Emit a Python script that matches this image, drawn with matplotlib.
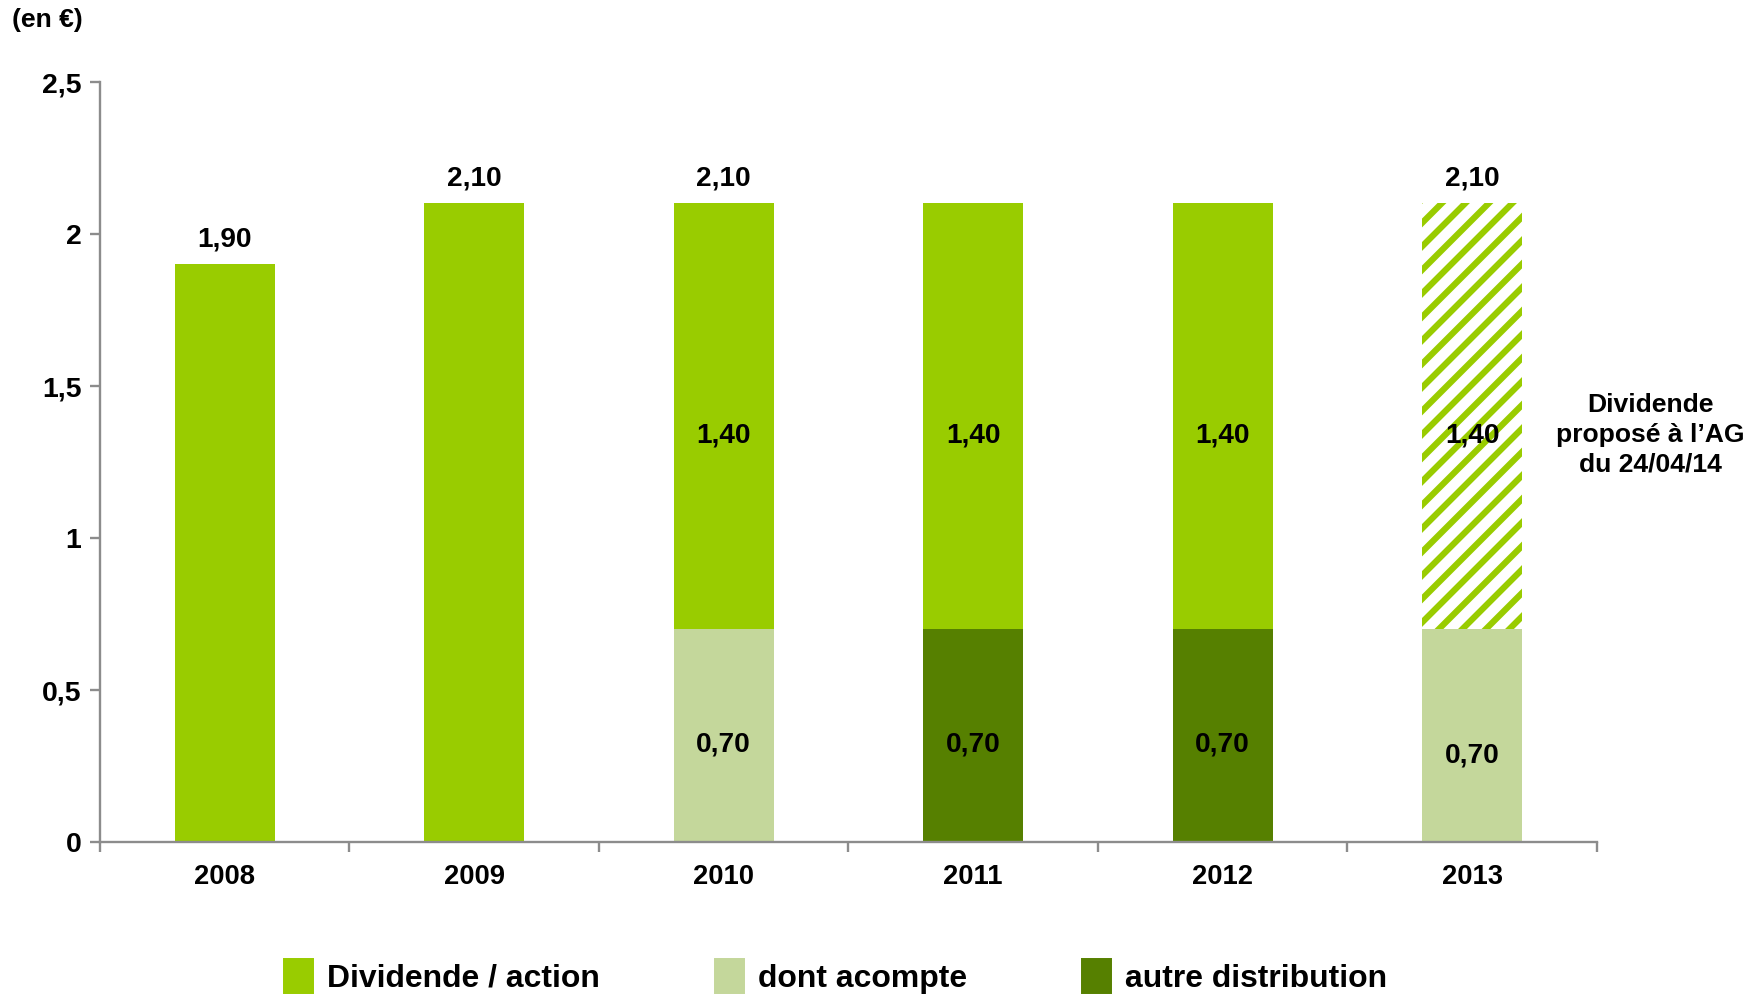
import matplotlib.pyplot as plt
import matplotlib.patches as mpatches
import numpy as np

plt.rcParams['font.family'] = ['Liberation Sans', 'DejaVu Sans']
plt.rcParams['font.weight'] = 'bold'
plt.rcParams['hatch.linewidth'] = 3.2

years = ['2008', '2009', '2010', '2011', '2012', '2013']
acompte = [0, 0, 0.70, 0, 0, 0.70]          # dont acompte
autre = [0, 0, 0, 0.70, 0.70, 0]            # autre distribution
solde = [1.90, 2.10, 1.40, 1.40, 1.40, 1.40]  # partie haute (dividende / action)
total_shown = [True, True, True, False, False, True]
proposed = [False, False, False, False, False, True]  # dividende proposé (hachuré)

VERT = '#99CC00'
CLAIR = '#C4D79B'
FONCE = '#568000'
AXE = '#8C8C8C'

fig = plt.figure(figsize=(12.5, 7.05), dpi=141.04)
ax = fig.add_axes([0.0567, 0.1529, 0.8491, 0.7646])

x = np.arange(len(years))
w = 0.4
bas = np.array(acompte) + np.array(autre)

ax.bar(x, acompte, w, color=CLAIR, linewidth=0)
ax.bar(x, autre, w, color=FONCE, linewidth=0)
for i in range(len(years)):
    if proposed[i]:
        ax.bar(x[i], solde[i], w, bottom=bas[i], facecolor='white',
               edgecolor=VERT, hatch='//', linewidth=0)
    else:
        ax.bar(x[i], solde[i], w, bottom=bas[i], color=VERT, linewidth=0)

# étiquettes de valeurs
fs = 14.3
for i in range(len(years)):
    tot = bas[i] + solde[i]
    if total_shown[i]:
        ax.annotate(f'{tot:.2f}'.replace('.', ','), (x[i], tot),
                    xytext=(0, 13), textcoords='offset points',
                    ha='center', va='center', fontsize=fs)
    if bas[i] > 0:
        ax.text(x[i], bas[i] + solde[i] * 0.455, f'{solde[i]:.2f}'.replace('.', ','),
                ha='center', va='center', fontsize=fs)
        yb = bas[i] * (0.41 if proposed[i] else 0.46)
        ax.text(x[i], yb, f'{bas[i]:.2f}'.replace('.', ','),
                ha='center', va='center', fontsize=fs)

ax.set_xlim(-0.5, len(years) - 0.5)
ax.set_ylim(0, 2.5)
ax.set_yticks([0, 0.5, 1, 1.5, 2, 2.5])
ax.set_yticklabels(['0', '0,5', '1', '1,5', '2', '2,5'])
ax.set_xticks(x)
ax.set_xticklabels(years)
ax.set_xticks(np.arange(-0.5, len(years)), minor=True)

for s in ['top', 'right']:
    ax.spines[s].set_visible(False)
for s in ['left', 'bottom']:
    ax.spines[s].set_color(AXE)
    ax.spines[s].set_linewidth(1.2)

ax.tick_params(axis='y', length=5, width=1.2, color=AXE, labelsize=14.5, pad=4.5)
ax.tick_params(axis='x', which='major', length=0, labelsize=14, pad=11)
ax.tick_params(axis='x', which='minor', length=5, width=1.2, color=AXE)

fig.text(0.007, 0.98, '(en €)', fontsize=13.5, ha='left', va='center')
fig.text(0.936, 0.563, 'Dividende\nproposé à l\u2019AG\ndu 24/04/14',
         ha='center', va='center', fontsize=13.5, linespacing=1.3)

handles = [mpatches.Patch(color=VERT, label='Dividende / action'),
           mpatches.Patch(color=CLAIR, label='dont acompte'),
           mpatches.Patch(color=FONCE, label='autre distribution')]
fig.legend(handles=handles, loc='center', bbox_to_anchor=(0.474, 0.018),
           ncol=3, frameon=False, fontsize=16.3, handlelength=0.9,
           handleheight=1.25, handletextpad=0.45, columnspacing=3.6)

fig.savefig('out.png', dpi=141.04)
